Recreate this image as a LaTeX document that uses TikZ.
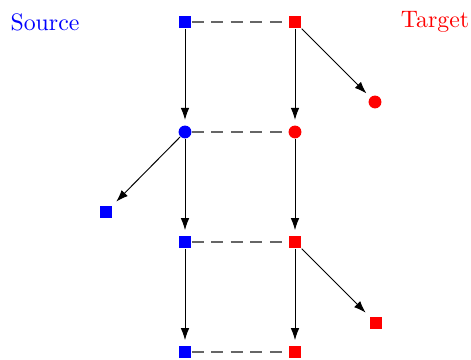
\documentclass[tikz,border=0pt]{standalone}
\usetikzlibrary{arrows.meta}
\begin{document}
\begin{tikzpicture}[x=0.42pt,y=-0.42pt,
  sq/.style={rectangle,inner sep=0pt,minimum size=5.2pt,fill=#1},
  dot/.style={circle,inner sep=0pt,minimum size=5.4pt,fill=#1},
  arr/.style={-{Latex[length=5pt,width=3.6pt]},shorten >=2.2pt,black},
  corr/.style={dash pattern=on 5pt off 3.2pt,black!60,semithick}]
\useasboundingbox (0,0) rectangle (471,360);
\node[text=blue] (src) at (45,22) {Source};
\node[text=red] (tgt) at (435,22) {Target};
\node[sq=blue] (b1) at (185,22) {};
\node[dot=blue] (b2) at (185,132) {};
\node[sq=blue] (b3) at (185,242) {};
\node[sq=blue] (b4) at (185,352) {};
\node[sq=blue] (bx) at (106,212) {};
\node[sq=red] (r1) at (295,22) {};
\node[dot=red] (r2) at (295,132) {};
\node[sq=red] (r3) at (295,242) {};
\node[sq=red] (r4) at (295,352) {};
\node[dot=red] (rx1) at (375,102) {};
\node[sq=red] (rx2) at (376,323) {};
\draw[corr] (b1) -- (r1);
\draw[corr] (b2) -- (r2);
\draw[corr] (b3) -- (r3);
\draw[corr] (b4) -- (r4);
\draw[arr] (b1) -- (b2);
\draw[arr] (b2) -- (b3);
\draw[arr] (b3) -- (b4);
\draw[arr] (b2) -- (bx);
\draw[arr] (r1) -- (r2);
\draw[arr] (r2) -- (r3);
\draw[arr] (r3) -- (r4);
\draw[arr] (r1) -- (rx1);
\draw[arr] (r3) -- (rx2);
\end{tikzpicture}
\end{document}
